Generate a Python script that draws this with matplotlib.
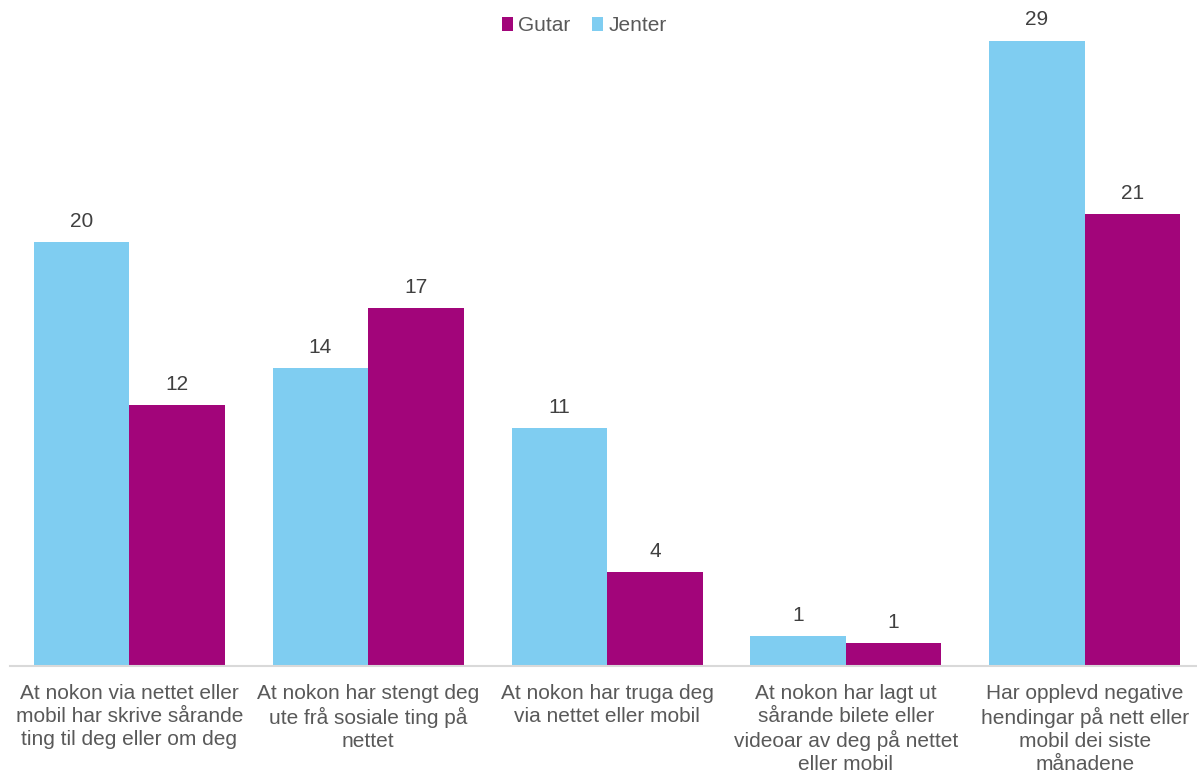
import numpy as np
import matplotlib
matplotlib.use('Agg')
import matplotlib.pyplot as plt

plt.rcParams['font.family'] = ['Liberation Sans', 'DejaVu Sans']

categories = [
    'At nokon via nettet eller\nmobil har skrive sårande\nting til deg eller om deg',
    'At nokon har stengt deg\nute frå sosiale ting på\nnettet',
    'At nokon har truga deg\nvia nettet eller mobil',
    'At nokon har lagt ut\nsårande bilete eller\nvideoar av deg på nettet\neller mobil',
    'Har opplevd negative\nhendingar på nett eller\nmobil dei siste\nmånadene',
]
jenter = [19.8, 13.9, 11.1, 1.4, 29.2]
gutar = [12.2, 16.7, 4.4, 1.07, 21.1]

c_jenter = '#7fcdf1'
c_gutar = '#a2057a'

fig = plt.figure(figsize=(11.97, 7.75), dpi=100)
ax = fig.add_axes([10 / 1197, 109 / 775, 1 - 10 / 1197, 664 / 775])

x = np.arange(len(categories))
w = 0.4
b1 = ax.bar(x - w / 2, jenter, w, color=c_jenter, label='Jenter')
b2 = ax.bar(x + w / 2, gutar, w, color=c_gutar, label='Gutar')

for bars in (b1, b2):
    ax.bar_label(bars, labels=[f'{v:.0f}' for v in bars.datavalues],
                 padding=8, fontsize=15, color='#404040')

ax.set_xlim(-0.5, 4.47)
ax.set_ylim(0, 31)
ax.set_xticks(x)
ax.set_xticklabels(categories, fontsize=15, color='#595959', linespacing=1.25)
ax.tick_params(axis='x', length=0, pad=13)
ax.set_yticks([])
for s in ['top', 'right', 'left']:
    ax.spines[s].set_visible(False)
ax.spines['bottom'].set_color('#d9d9d9')
ax.spines['bottom'].set_linewidth(1.5)

handles = [b2, b1]
fig.legend(handles, ['Gutar', 'Jenter'], loc='upper center', bbox_to_anchor=(0.488, 1.003),
           ncol=2, frameon=False, fontsize=15, handlelength=0.55, handleheight=0.7,
           handletextpad=0.25, columnspacing=1.0, labelcolor='#595959')

fig.savefig('out.png', dpi=100)
